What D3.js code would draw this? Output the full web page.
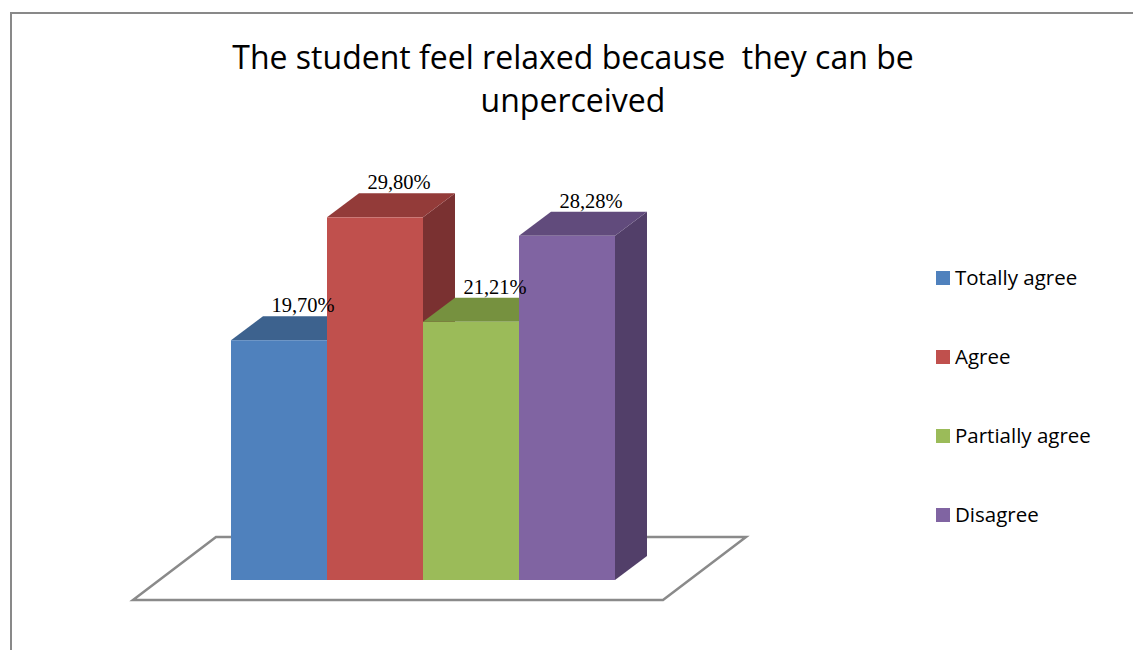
<!DOCTYPE html>
<html>
<head>
<meta charset="utf-8">
<script src="https://cdn.jsdelivr.net/npm/d3@7"></script>
<style>
  html, body { margin: 0; padding: 0; background: #fff; }
  svg { display: block; }
  text { white-space: pre; }
</style>
</head>
<body>
<svg id="chart" width="1133" height="650"></svg>
<script>
// Survey answers and their shares (percent)
const categories = ["Totally agree", "Agree", "Partially agree", "Disagree"];
const values = [19.70, 29.80, 21.21, 28.28];
const valueLabels = ["19,70%", "29,80%", "21,21%", "28,28%"];
const titleLines = ["The student feel relaxed because  they can be", "unperceived"];

// Face colours per series: front, top, side
const frontColors = ["#4F81BD", "#C0504D", "#9BBB59", "#8064A2"];
const topColors   = ["#3D628E", "#933B39", "#76913F", "#614B7C"];
const sideColors  = ["#30507A", "#7A3131", "#617A33", "#523F69"];

const svg = d3.select("#chart");

// Outer chart frame
svg.append("rect")
  .attr("x", 11).attr("y", 13)
  .attr("width", 1300).attr("height", 800)
  .attr("fill", "none")
  .attr("stroke", "#898989")
  .attr("stroke-width", 2);

// Title
svg.append("text")
  .attr("x", 573).attr("text-anchor", "middle")
  .style("font-family", "'Open Sans', sans-serif")
  .style("font-size", "32px")
  .attr("fill", "#000")
  .selectAll("tspan").data(titleLines).join("tspan")
  .attr("x", 573)
  .attr("y", (d, i) => 69 + i * 43)
  .text(d => d);

// 3D projection: depth offset of each bar
const depthX = 32, depthY = -24;
const baseY = 580;

const x = d3.scaleBand().domain(categories).range([231, 615]).padding(0);
const y = d3.scaleLinear().domain([0, 30]).range([baseY, baseY - 30 * 12.17]);

// Floor plane
const floor = [[133, 600], [663, 600], [746, 537], [216, 537]];
svg.append("path")
  .attr("d", d3.line()(floor) + "Z")
  .attr("fill", "none")
  .attr("stroke", "#8a8a8a")
  .attr("stroke-width", 2.5);

const barsG = svg.append("g");
categories.forEach((c, i) => {
  const x0 = x(c), x1 = x(c) + x.bandwidth();
  const yt = y(values[i]);
  const g = barsG.append("g");
  // right side face
  g.append("path")
    .attr("d", d3.line()([[x1, yt], [x1 + depthX, yt + depthY], [x1 + depthX, baseY + depthY], [x1, baseY]]) + "Z")
    .attr("fill", sideColors[i]);
  // top face
  g.append("path")
    .attr("d", d3.line()([[x0, yt], [x0 + depthX, yt + depthY], [x1 + depthX, yt + depthY], [x1, yt]]) + "Z")
    .attr("fill", topColors[i]);
  // front face
  g.append("rect")
    .attr("x", x0).attr("y", yt)
    .attr("width", x.bandwidth()).attr("height", baseY - yt)
    .attr("fill", frontColors[i]);
});

// Value labels above each bar
svg.append("g").selectAll("text").data(categories).join("text")
  .attr("x", (d, i) => x(d) + x.bandwidth() / 2 + 24)
  .attr("y", (d, i) => y(values[i]) + depthY - 4)
  .attr("text-anchor", "middle")
  .style("font-family", "'Liberation Serif', 'Times New Roman', serif")
  .style("font-size", "20.5px")
  .attr("fill", "#000")
  .text((d, i) => valueLabels[i]);

// Legend
const legend = svg.append("g").selectAll("g").data(categories).join("g")
  .attr("transform", (d, i) => `translate(936, ${278 + i * 79})`);
legend.append("rect")
  .attr("x", 0).attr("y", -7).attr("width", 14).attr("height", 14)
  .attr("fill", (d, i) => frontColors[i]);
legend.append("text")
  .attr("x", 19).attr("y", 7)
  .style("font-family", "'Open Sans', sans-serif")
  .style("font-size", "20.5px")
  .attr("fill", "#000")
  .text(d => d);
</script>
</body>
</html>
